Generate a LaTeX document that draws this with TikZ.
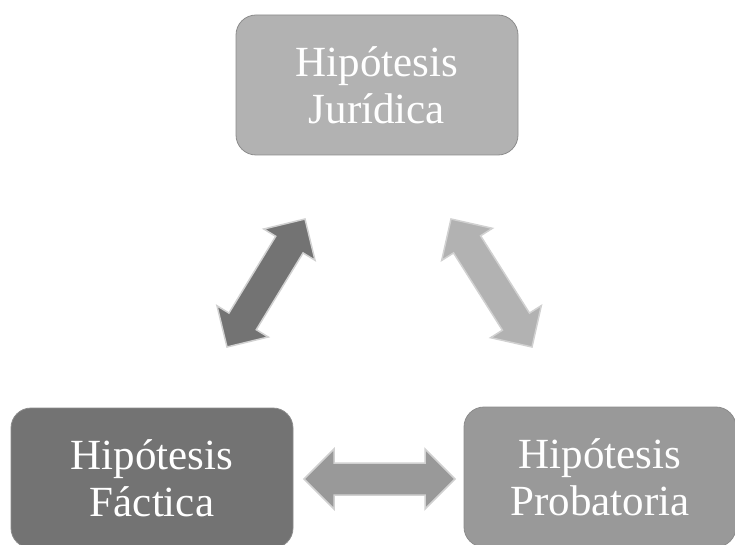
\documentclass[tikz,border=0pt]{standalone}
\usepackage{fontspec}
\setmainfont{Liberation Serif}
\usetikzlibrary{calc}

\definecolor{grisclaro}{HTML}{B2B2B2}
\definecolor{grismedio}{HTML}{999999}
\definecolor{grisoscuro}{HTML}{737373}

% flecha doble entre dos coordenadas
\newcommand{\flechadoble}[3]{%
  \filldraw[fill=#3, draw=black!18, line width=1.5pt, line join=miter]
    (#1) -- ($(#1)!30pt!(#2)!30pt!90:(#2)$) -- ($(#1)!30pt!(#2)!16pt!90:(#2)$)
    -- ($(#2)!30pt!(#1)!16pt!-90:(#1)$) -- ($(#2)!30pt!(#1)!30pt!-90:(#1)$)
    -- (#2) -- ($(#2)!30pt!(#1)!30pt!90:(#1)$) -- ($(#2)!30pt!(#1)!16pt!90:(#1)$)
    -- ($(#1)!30pt!(#2)!16pt!-90:(#2)$) -- ($(#1)!30pt!(#2)!30pt!-90:(#2)$) -- cycle;}

\begin{document}
\begin{tikzpicture}[x=1pt, y=-1pt,
    caja/.style={rectangle, rounded corners=20pt, minimum width=282pt,
      minimum height=140pt, draw=black!45, line width=0.8pt, text=white,
      align=center, font=\fontsize{43}{47}\selectfont}]
                \useasboundingbox (0,0) rectangle (735,545);
                \clip (0,0) rectangle (735,545);

                \node[caja, fill=grisclaro] (jur) at (377,85) {Hipótesis\\Jurídica};
                \node[caja, fill=grisoscuro] (fac) at (152,478) {Hipótesis\\Fáctica};
                \node[caja, fill=grismedio, minimum width=272pt] (pro) at (600,477) {Hipótesis\\Probatoria};

                \coordinate (fj1) at (227,347);
                \coordinate (fj2) at (305,219);
                \coordinate (jp1) at (451,219);
                \coordinate (jp2) at (532,347);
                \coordinate (fp1) at (304,479);
                \coordinate (fp2) at (455,479);

                \flechadoble{fj1}{fj2}{grisoscuro}
                \flechadoble{jp1}{jp2}{grisclaro}
                \flechadoble{fp1}{fp2}{grismedio}
            \end{tikzpicture}
\end{document}
